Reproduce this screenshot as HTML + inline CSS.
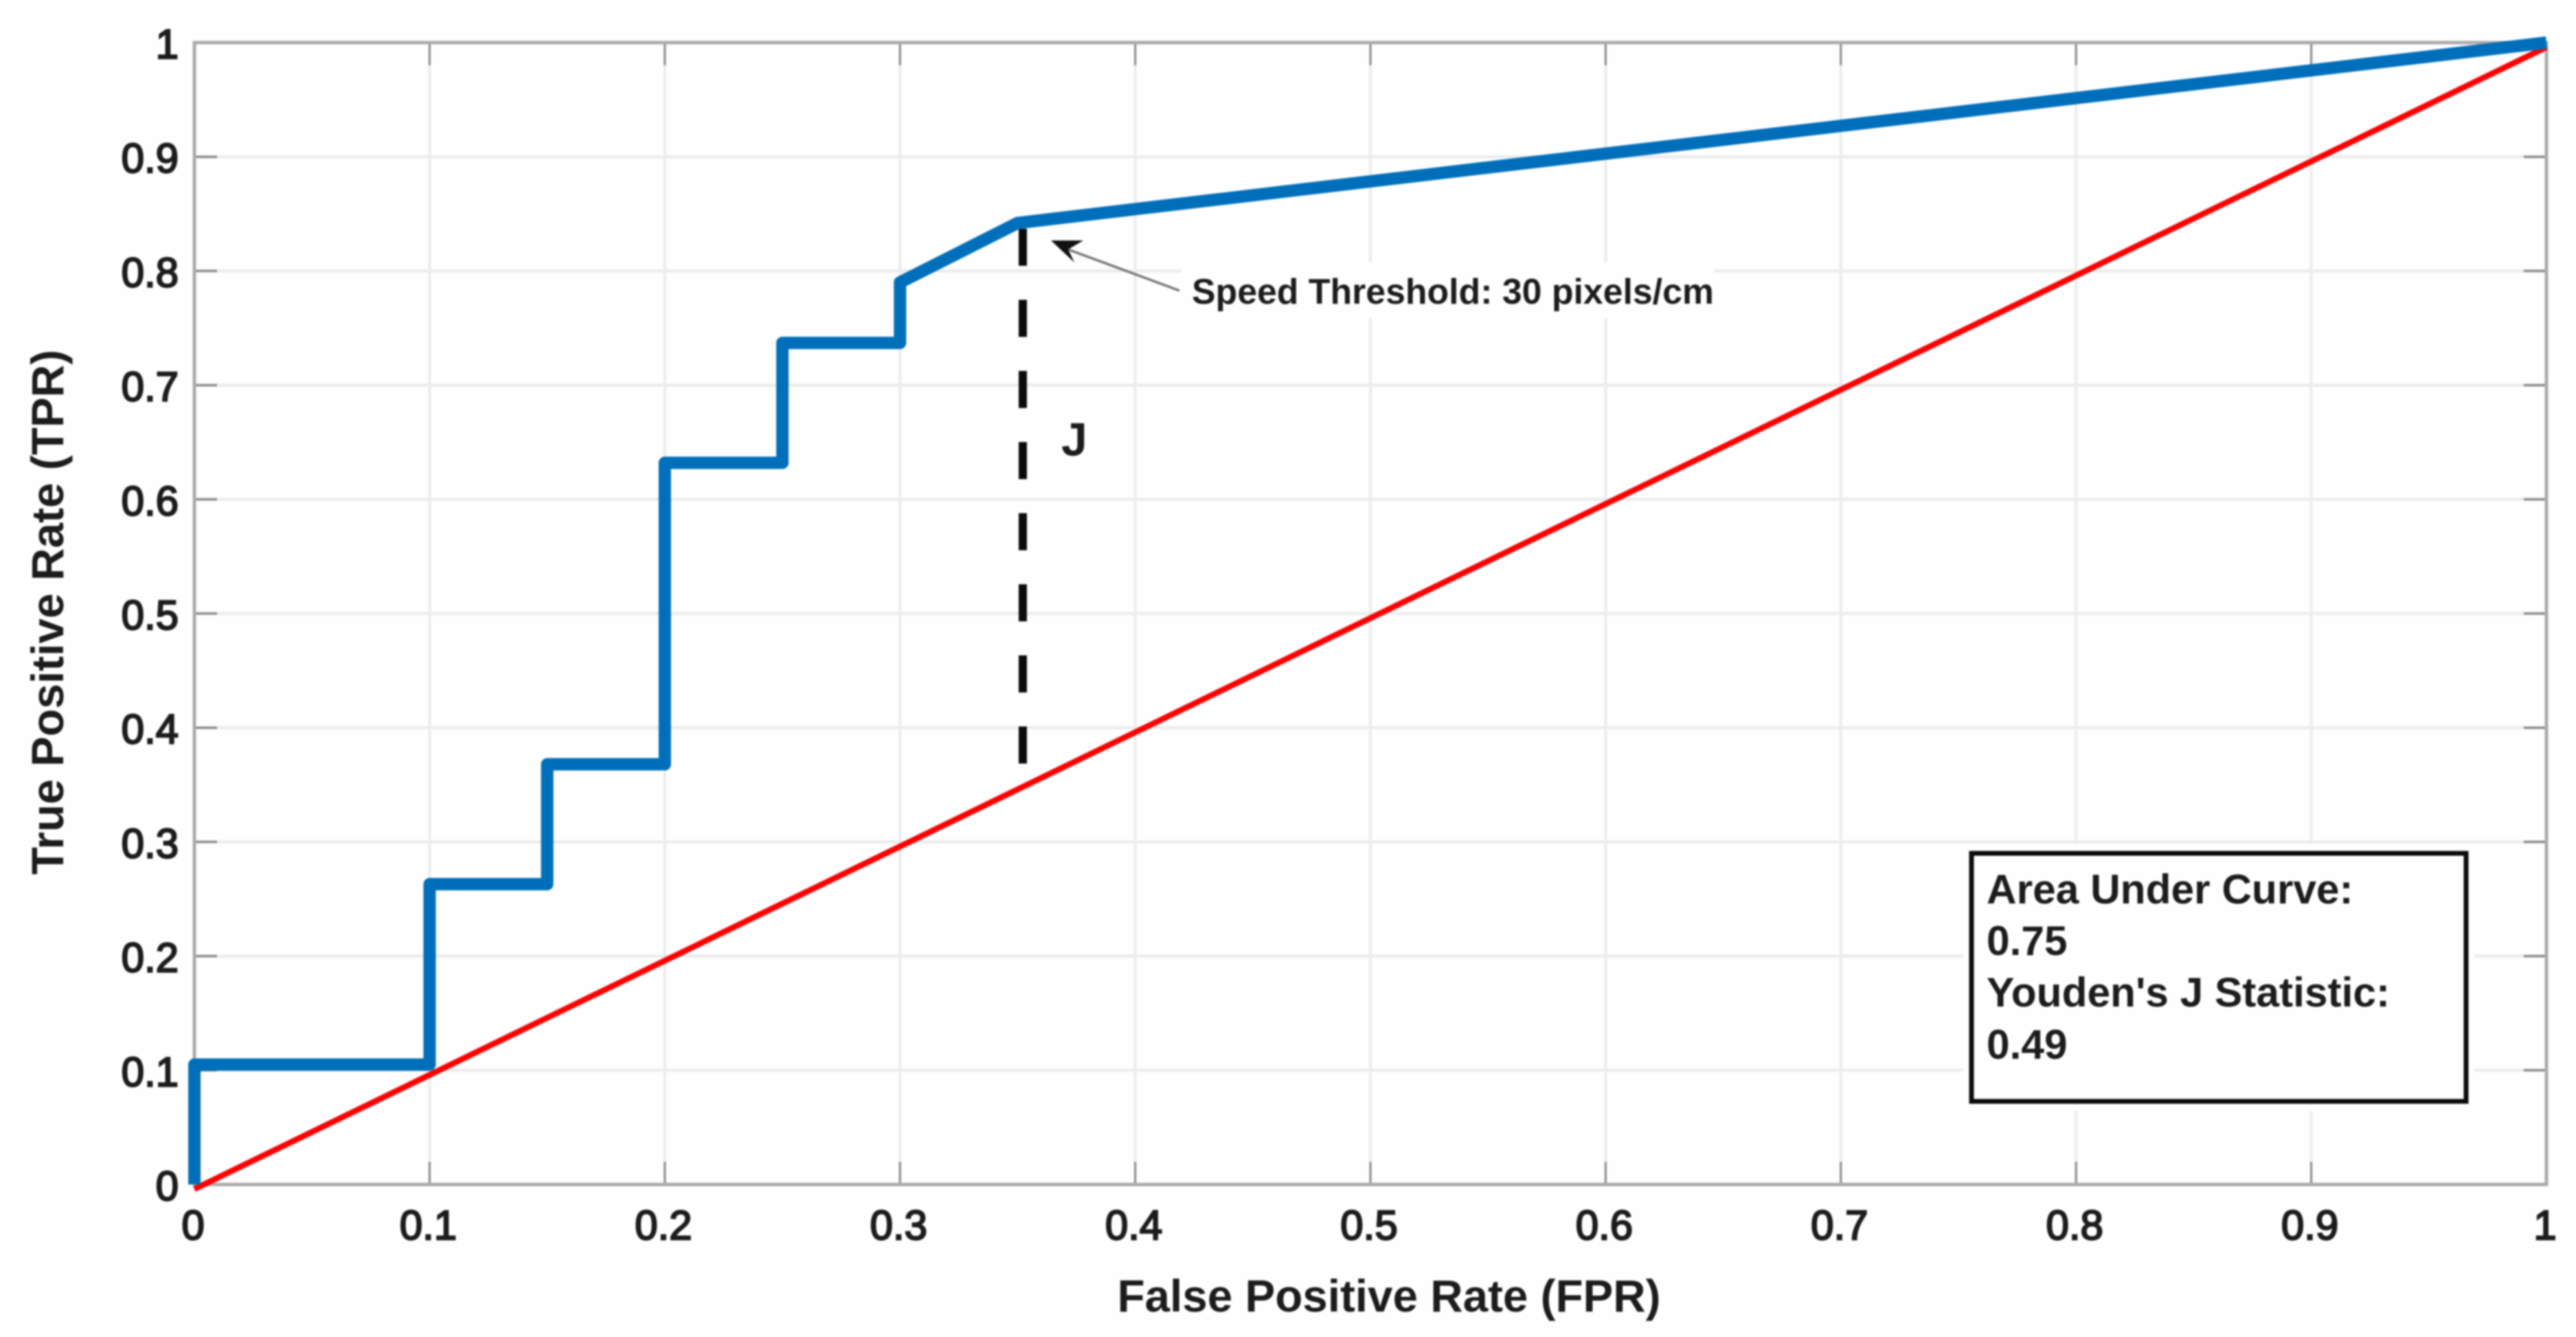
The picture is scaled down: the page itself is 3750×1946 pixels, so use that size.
<!DOCTYPE html>
<html lang="en">
<head>
<meta charset="utf-8">
<title>ROC Curve</title>
<style>
html,body{margin:0;padding:0;background:#fefefe;}
body{width:3750px;height:1946px;overflow:hidden;}
svg{display:block;filter:blur(1.4px);}
text{font-family:"Liberation Sans",Arial,sans-serif;font-weight:bold;fill:#1c1c1c;}
text.tick{font-weight:normal;stroke:#1c1c1c;stroke-width:2.4px;}
</style>
</head>
<body>
<svg id="chart" xmlns="http://www.w3.org/2000/svg" width="3750" height="1946" viewBox="0 0 3750 1946">
  <rect x="0" y="0" width="3750" height="1946" fill="#fefefe"/>
  <g id="grid"></g>
  <rect x="1720" y="382" width="775" height="81" fill="#fefefe"/>
  <rect x="2858" y="1228" width="744" height="389" fill="#fefefe"/>
  <g id="axes"></g>
  <g id="series"></g>

  <g>
    <line x1="1717" y1="423" x2="1552" y2="362" stroke="#777" stroke-width="3.5"/>
    <polygon points="1530,350 1577,350 1555,363 1564,382" fill="#111"/>
    <text x="1735" y="442" font-size="51.8">Speed Threshold: 30 pixels/cm</text>
  </g>
  <text x="1545" y="663" font-size="68">J</text>

  <g>
    <rect x="2870" y="1242" width="720" height="361" fill="#fefefe" stroke="#0c0c0c" stroke-width="7"/>
    <text x="2892" y="1315" font-size="60.4">Area Under Curve:</text>
    <text x="2892" y="1390" font-size="60.4">0.75</text>
    <text x="2892" y="1465" font-size="60.4">Youden's J Statistic:</text>
    <text x="2892" y="1541" font-size="60.4">0.49</text>
  </g>

  <text x="2022" y="1909" font-size="65.6" text-anchor="middle">False Positive Rate (FPR)</text>
  <text transform="translate(92,891) rotate(-90)" font-size="65.8" text-anchor="middle">True Positive Rate (TPR)</text>
</svg>
<script>
const xTickLabels = ["0","0.1","0.2","0.3","0.4","0.5","0.6","0.7","0.8","0.9","1"];
const yTickLabels = ["0","0.1","0.2","0.3","0.4","0.5","0.6","0.7","0.8","0.9","1"];
const rocFpr = [0,0,0.1,0.1,0.15,0.15,0.2,0.2,0.25,0.25,0.3,0.3,0.35,1];
const rocTpr = [0,0.105,0.105,0.263,0.263,0.368,0.368,0.632,0.632,0.737,0.737,0.79,0.842,1];
const chanceFpr = [0,1];
const chanceTpr = [-0.004,0.996];
const youdenFpr = [0.3522,0.3522];
const youdenTpr = [0.837,0.368];

const NS = "http://www.w3.org/2000/svg";
const plotLeft = 283, plotRight = 3707, plotTop = 62, plotBottom = 1724;
function xScale(v){ return plotLeft + v * (plotRight - plotLeft); }
function yScale(v){ return plotBottom - v * (plotBottom - plotTop); }
function makeLine(x1,y1,x2,y2,stroke,width){
  const l = document.createElementNS(NS,"line");
  l.setAttribute("x1",x1); l.setAttribute("y1",y1);
  l.setAttribute("x2",x2); l.setAttribute("y2",y2);
  l.setAttribute("stroke",stroke); l.setAttribute("stroke-width",width);
  return l;
}
function makeLabel(x,y,anchor,str){
  const t = document.createElementNS(NS,"text");
  t.setAttribute("x",x); t.setAttribute("y",y);
  t.setAttribute("text-anchor",anchor);
  t.setAttribute("font-size",60);
  t.setAttribute("class","tick");
  t.textContent = str;
  return t;
}
function makePolyline(xs,ys,stroke,width){
  const p = document.createElementNS(NS,"polyline");
  p.setAttribute("points",xs.map((v,i)=>xScale(v)+","+yScale(ys[i])).join(" "));
  p.setAttribute("fill","none");
  p.setAttribute("stroke",stroke);
  p.setAttribute("stroke-width",width);
  return p;
}

const grid = document.getElementById("grid");
const axes = document.getElementById("axes");
const series = document.getElementById("series");
const gridColor = "#ececec", tickColor = "#8c8c8c", axisColor = "#ababab";
const tickLen = 33;

xTickLabels.forEach(function(lbl){
  const v = parseFloat(lbl), x = xScale(v);
  if (v > 0 && v < 1) {
    const g = makeLine(x,plotTop,x,plotBottom,gridColor,4);
    
    
    grid.appendChild(g);
  }
  const tb = makeLine(x,plotBottom,x,plotBottom-tickLen,tickColor,3);
  
  
  axes.appendChild(tb);
  const tt = makeLine(x,plotTop,x,plotTop+tickLen,tickColor,3);
  
  
  axes.appendChild(tt);
  const t = makeLabel(x-2,1804,"middle",lbl);
  
  
  axes.appendChild(t);
});

yTickLabels.forEach(function(lbl){
  const v = parseFloat(lbl), y = yScale(v);
  if (v > 0 && v < 1) {
    const g = makeLine(plotLeft,y,plotRight,y,gridColor,4.5);
    
    
    grid.appendChild(g);
  }
  const tl = makeLine(plotLeft,y,plotLeft+tickLen,y,tickColor,3.5);
  
  
  axes.appendChild(tl);
  const tr = makeLine(plotRight,y,plotRight-tickLen,y,tickColor,3.5);
  
  
  axes.appendChild(tr);
  const t = makeLabel(260,y+23,"end",lbl);
  
  
  axes.appendChild(t);
});

const frame = document.createElementNS(NS,"rect");
frame.setAttribute("x",plotLeft);
frame.setAttribute("y",plotTop);
frame.setAttribute("width",plotRight-plotLeft);
frame.setAttribute("height",plotBottom-plotTop);
frame.setAttribute("fill","none");
frame.setAttribute("stroke",axisColor);
frame.setAttribute("stroke-width",5);


axes.appendChild(frame);

const jLine = makePolyline(youdenFpr,youdenTpr,"#0c0c0c",12);
jLine.setAttribute("stroke-dasharray","54 49.5");


series.appendChild(jLine);

const chance = makePolyline(chanceFpr,chanceTpr,"#ff0000",8.5);


series.appendChild(chance);

const roc = makePolyline(rocFpr,rocTpr,"#006fbb",18);
roc.setAttribute("stroke-linejoin","round");


series.appendChild(roc);
</script>
</body>
</html>
